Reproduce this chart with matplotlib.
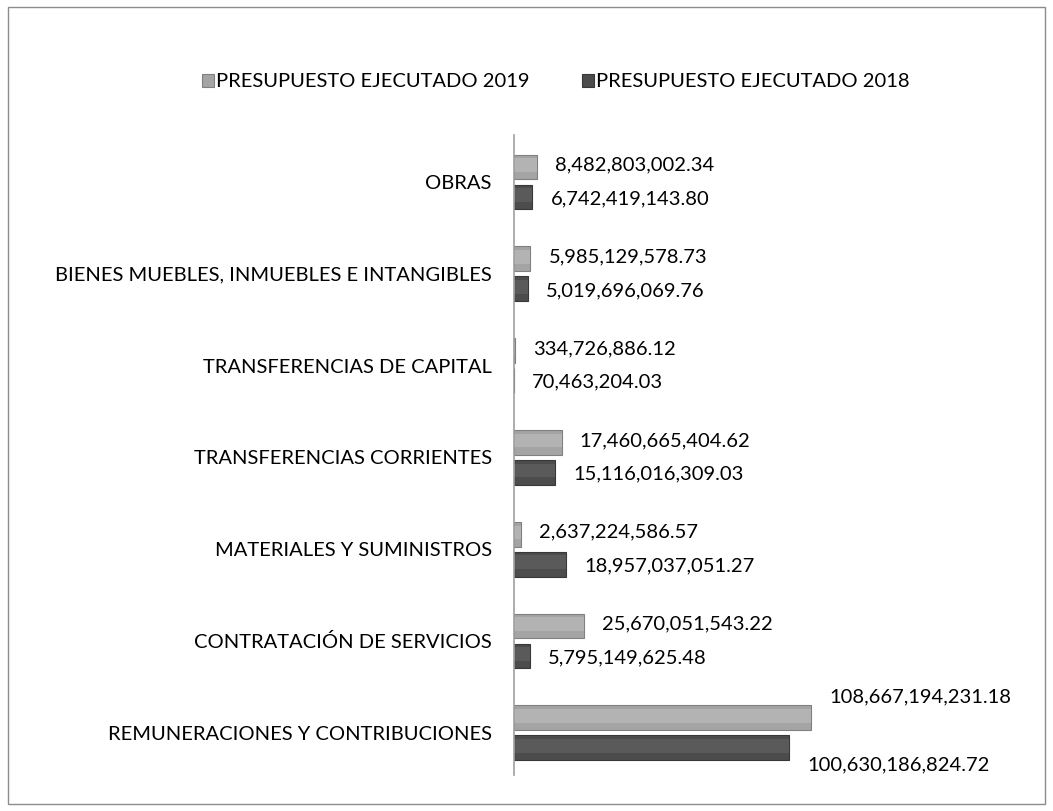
import numpy as np
import matplotlib.pyplot as plt
from matplotlib.patches import Rectangle

plt.rcParams['font.family'] = ['Lato', 'DejaVu Sans']

categorias = ['REMUNERACIONES Y CONTRIBUCIONES', 'CONTRATACIÓN DE SERVICIOS',
              'MATERIALES Y SUMINISTROS', 'TRANSFERENCIAS CORRIENTES',
              'TRANSFERENCIAS DE CAPITAL', 'BIENES MUEBLES, INMUEBLES E INTANGIBLES',
              'OBRAS']
ejec_2019 = [108667194231.18, 25670051543.22, 2637224586.57, 17460665404.62,
             334726886.12, 5985129578.73, 8482803002.34]
ejec_2018 = [100630186824.72, 5795149625.48, 18957037051.27, 15116016309.03,
             70463204.03, 5019696069.76, 6742419143.80]

fig = plt.figure(figsize=(10.53, 8.11), dpi=100)
fig.patches.append(Rectangle((0.008, 0.009), 0.984, 0.982, transform=fig.transFigure,
                             fill=False, edgecolor='#8c8c8c', linewidth=1))
ax = fig.add_axes([0.488, 0.0444, 0.37, 0.789])

y = np.arange(len(categorias))
h = 0.27
off = 0.163
ax.barh(y + off, ejec_2019, height=h, color='#a4a4a4', edgecolor='#808080', linewidth=0.8,
        label='PRESUPUESTO EJECUTADO 2019')
ax.barh(y - off, ejec_2018, height=h, color='#4c4c4c', edgecolor='#383838', linewidth=0.8,
        label='PRESUPUESTO EJECUTADO 2018')
# brillo tipo bisel
ax.barh(y + off + 0.02, ejec_2019, height=h * 0.55, color='#b3b3b3', linewidth=0)
ax.barh(y - off + 0.02, ejec_2018, height=h * 0.55, color='#5a5a5a', linewidth=0)

xmax = 108667194231.18 * (900 - 514) / 294
ax.set_xlim(0, xmax)
ax.set_ylim(-0.46, 6.51)
pad = xmax * 0.047
for i in y:
    dy1, dy2 = (0.23, -0.19) if i == 0 else (0.02, -0.02)
    ax.text(ejec_2019[i] + pad, i + off + dy1, f'{ejec_2019[i]:,.2f}', va='center', ha='left',
            fontsize=14.5, clip_on=False)
    ax.text(ejec_2018[i] + pad, i - off + dy2, f'{ejec_2018[i]:,.2f}', va='center', ha='left',
            fontsize=14.5, clip_on=False)

ax.set_yticks(y)
ax.set_yticklabels(categorias, fontsize=14.5)
ax.tick_params(axis='y', length=0, pad=16)
ax.set_xticks([])
for s in ['top', 'right', 'bottom']:
    ax.spines[s].set_visible(False)
ax.spines['left'].set_color('#a0a0a0')
ax.spines['left'].set_linewidth(1.2)

handles, labels = ax.get_legend_handles_labels()
fig.legend(handles, labels, loc='center', bbox_to_anchor=(0.528, 0.899), ncol=2, frameon=False,
           fontsize=14.5, handlelength=0.6, handleheight=0.6, handletextpad=0.1, columnspacing=2.6)

fig.savefig('out.png')
